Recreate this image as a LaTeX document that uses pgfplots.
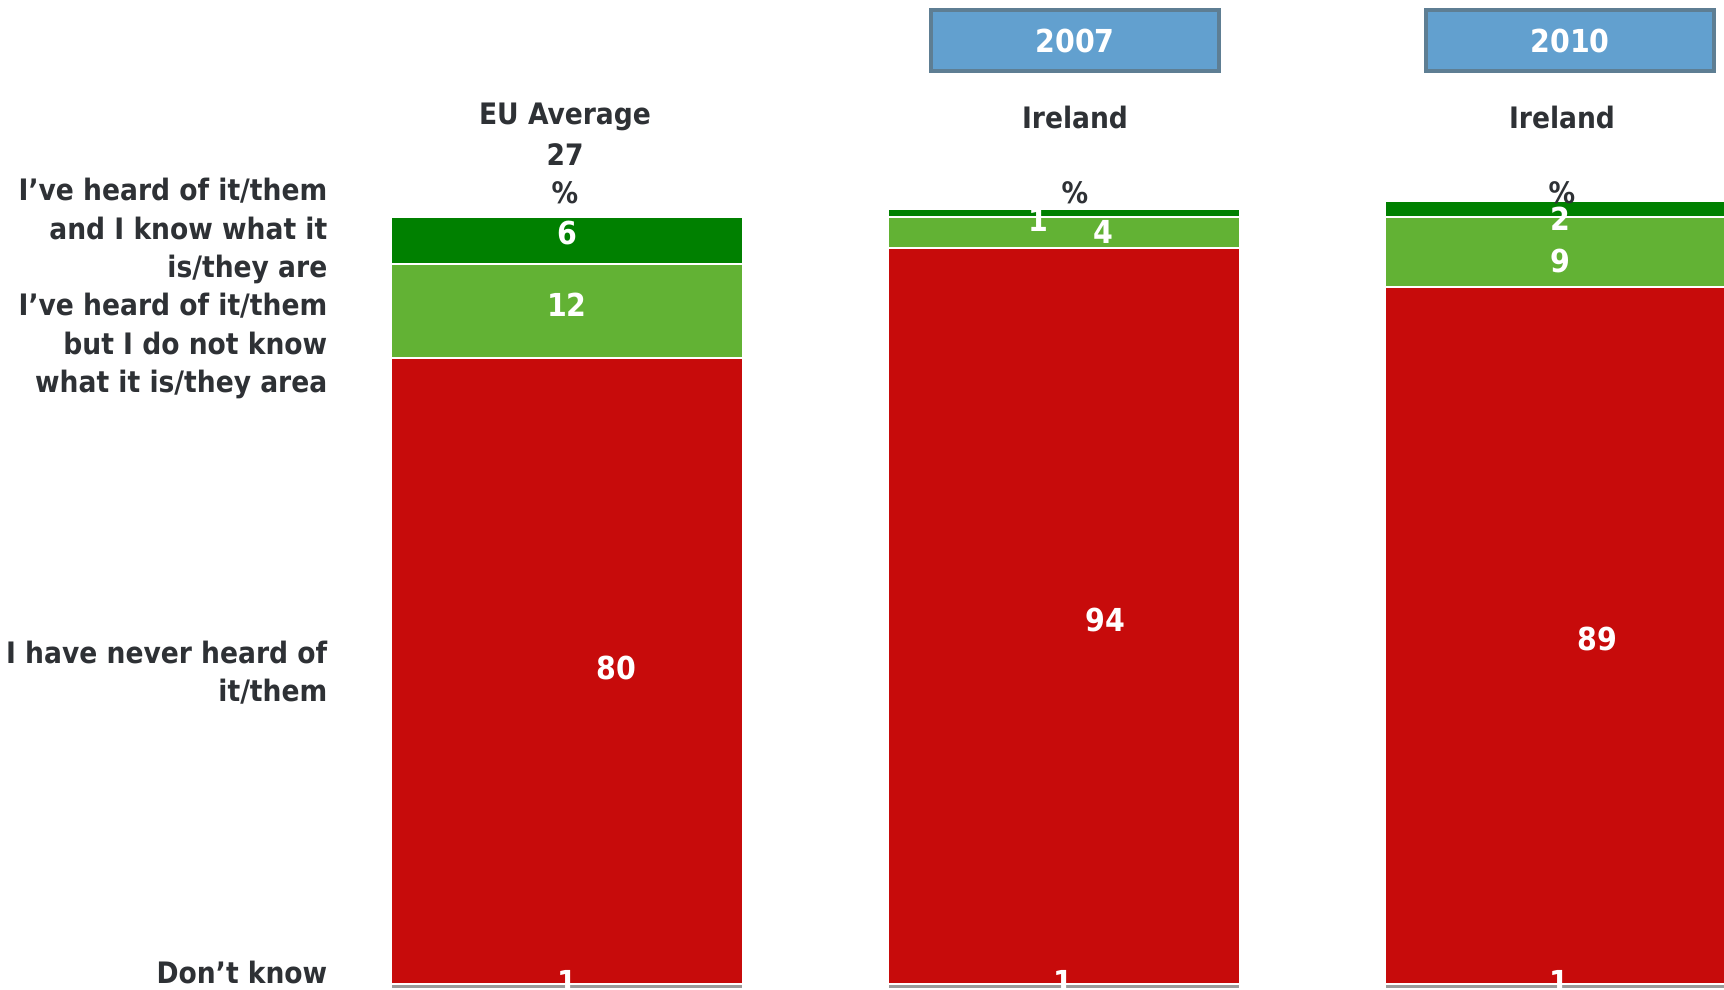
\documentclass[border=0pt]{standalone}
\usepackage{pgfplots}
\pgfplotsset{compat=1.18}
\usepackage{fontspec}
\setmainfont{DejaVu Sans Condensed}
\definecolor{txt}{HTML}{2E3135}
\definecolor{bred}{HTML}{C70B0B}
\definecolor{lgreen}{HTML}{62B234}
\definecolor{dgreen}{HTML}{008000}
\definecolor{dkgrey}{HTML}{9B9B9B}
\definecolor{boxfill}{HTML}{62A0CF}
\definecolor{boxdraw}{HTML}{5E7E93}
\begin{document}
\begin{tikzpicture}[font=\fontsize{8.4}{10.9}\selectfont\bfseries]
\begin{axis}[at={(0,0)}, anchor=south west, scale only axis,
  width=17.24cm, height=9.89cm,
  xmin=-1.1408, xmax=2.3280, ymin=0.345, ymax=126.69,
  hide axis, ybar stacked, bar width=0.7082, clip mode=individual,
  every axis plot/.append style={draw=white, line width=0.6pt}]
\addplot[fill=dkgrey] coordinates {(0,1) (1,1) (2,1)};
\addplot[fill=bred] coordinates {(0,80) (1,94) (2,89)};
\addplot[fill=lgreen] coordinates {(0,12) (1,4) (2,9)};
\addplot[fill=dgreen] coordinates {(0,6) (1,1) (2,2)};
% value label anchors
\coordinate (a1) at (axis cs:0,96.9);
\coordinate (a2) at (axis cs:0,87.7);
\coordinate (a3) at (axis cs:0.099,41.3);
\coordinate (a4) at (axis cs:0,1.24);
\coordinate (b1) at (axis cs:0.948,98.6);
\coordinate (b2) at (axis cs:1.080,97.1);
\coordinate (b3) at (axis cs:1.083,47.5);
\coordinate (b4) at (axis cs:0.998,1.24);
\coordinate (c1) at (axis cs:1.998,98.8);
\coordinate (c2) at (axis cs:1.998,93.3);
\coordinate (c3) at (axis cs:2.074,45.0);
\coordinate (c4) at (axis cs:1.996,1.24);
\end{axis}
\begin{scope}[every node/.style={text=white, font=\fontsize{9}{10.9}\selectfont\bfseries}]
\node at (a1) {6};
\node at (a2) {12};
\node at (a3) {80};
\node at (a4) {1};
\node at (b1) {1};
\node at (b2) {4};
\node at (b3) {94};
\node at (b4) {1};
\node at (c1) {2};
\node at (c2) {9};
\node at (c3) {89};
\node at (c4) {1};
\end{scope}
% row labels
\begin{scope}[every node/.style={anchor=east, align=right, text=txt, inner sep=0pt}]
\node at (3.28,7.58) {I’ve heard of it/them\\and I know what it\\is/they are};
\node at (3.28,6.43) {I’ve heard of it/them\\but I do not know\\what it is/they area};
\node at (3.28,3.165) {I have never heard of\\it/them};
\node at (3.28,0.17) {Don’t know};
\end{scope}
% column titles
\begin{scope}[every node/.style={text=txt, inner sep=0pt}]
\node at (5.65,8.72) {EU Average};
\node at (5.65,8.34) {27};
\node at (5.65,7.96) {\%};
\node at (10.75,8.72) {Ireland};
\node at (10.75,7.96) {\%};
\node at (15.62,8.72) {Ireland};
\node at (15.62,7.96) {\%};
\end{scope}
% year boxes
\draw[fill=boxfill, draw=boxdraw, line width=1.1pt] (9.31,9.18) rectangle (12.19,9.79);
\node[text=white, font=\fontsize{9}{10.9}\selectfont\bfseries] at (10.75,9.48) {2007};
\draw[fill=boxfill, draw=boxdraw, line width=1.1pt] (14.26,9.18) rectangle (17.14,9.79);
\node[text=white, font=\fontsize{9}{10.9}\selectfont\bfseries] at (15.70,9.48) {2010};
\pgfresetboundingbox
\path[use as bounding box] (0,0) rectangle (17.24,9.89);
\end{tikzpicture}
\end{document}
